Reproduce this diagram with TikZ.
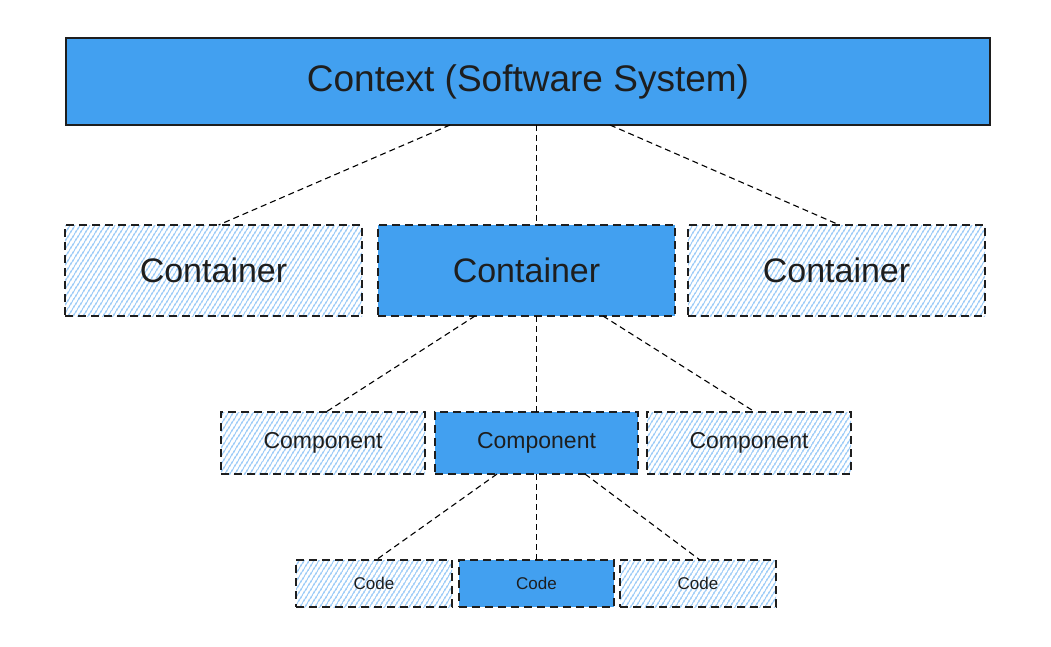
\documentclass[tikz,border=0pt]{standalone}
\usepackage{fontspec}
\setmainfont{Liberation Sans}
\usepackage{tikz}
\usetikzlibrary{positioning,patterns.meta}
\definecolor{boxblue}{RGB}{66,160,240}
\definecolor{hatchblue}{RGB}{115,182,245}
\definecolor{inkgray}{RGB}{30,30,30}

\begin{document}
\begin{tikzpicture}[x=1pt, y=-1pt,
  box/.style={draw=inkgray, line width=1.4pt, inner sep=0pt, outer sep=0pt, text=inkgray},
  solidbox/.style={box, fill=boxblue},
  hatchbox/.style={box, pattern={Lines[angle=58,distance=4pt,line width=1.2pt]}, pattern color=hatchblue},
  dashbox/.style={dash pattern=on 8pt off 5pt},
  contbox/.style={minimum width=297pt, minimum height=91pt, font=\fontsize{34}{40}\selectfont},
  compbox/.style={minimum width=204pt, minimum height=62pt, font=\fontsize{23}{28}\selectfont},
  codebox/.style={minimum width=156pt, minimum height=47pt, font=\fontsize{17}{20}\selectfont},
  link/.style={draw=black, line width=1.1pt, dash pattern=on 6pt off 4pt}]
        \fill[white] (0,0) rectangle (1051,646);
        \useasboundingbox (0,0) rectangle (1051,646);

        % top level
        \node[solidbox, minimum width=924pt, minimum height=87pt, font=\fontsize{37}{44}\selectfont] (ctx) at (528,81.5) {Context (Software System)};

        % containers
        \node[solidbox, dashbox, contbox] (cont2) at (526.5,270.5) {Container};
        \node[hatchbox, dashbox, contbox, left=16pt of cont2] (cont1) {Container};
        \node[hatchbox, dashbox, contbox, right=13pt of cont2] (cont3) {Container};

        % components
        \node[solidbox, dashbox, compbox, minimum width=203pt] (comp2) at (536.5,443) {Component};
        \node[hatchbox, dashbox, compbox, left=10pt of comp2] (comp1) {Component};
        \node[hatchbox, dashbox, compbox, right=9pt of comp2] (comp3) {Component};

        % code
        \node[solidbox, dashbox, codebox, minimum width=155pt] (code2) at (536.5,583.5) {Code};
        \node[hatchbox, dashbox, codebox, left=7pt of code2] (code1) {Code};
        \node[hatchbox, dashbox, codebox, right=6pt of code2] (code3) {Code};

        \draw[link] ([xshift=-78pt]ctx.south) -- ([xshift=5pt]cont1.north);
        \draw[link] ([xshift=8.5pt]ctx.south) -- ([xshift=8.5pt]ctx.south |- cont2.north);
        \draw[link] ([xshift=82pt]ctx.south) -- ([xshift=3pt]cont3.north);

        \draw[link] ([xshift=-51.5pt]cont2.south) -- ([xshift=3pt]comp1.north);
        \draw[link] ([xshift=10pt]cont2.south) -- ([xshift=10pt]cont2.south |- comp2.north);
        \draw[link] ([xshift=76.5pt]cont2.south) -- ([xshift=6pt]comp3.north);

        \draw[link] ([xshift=-39.5pt]comp2.south) -- ([xshift=2pt]code1.north);
        \draw[link] (comp2.south) -- (code2.north);
        \draw[link] ([xshift=48.5pt]comp2.south) -- ([xshift=2pt]code3.north);
\end{tikzpicture}
\end{document}
